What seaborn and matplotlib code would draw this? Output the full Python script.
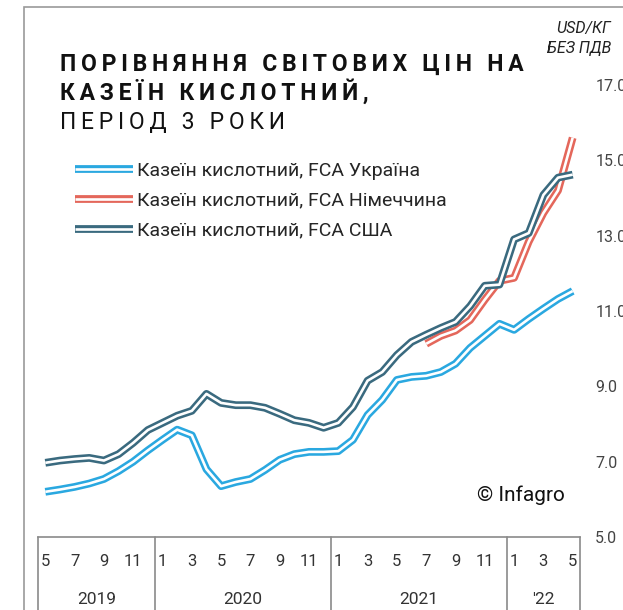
import pandas as pd
import matplotlib.pyplot as plt
import matplotlib.patches as mpatches
from matplotlib.lines import Line2D
import matplotlib.transforms as mtransforms
import seaborn as sns

# months from 2019-05 to 2022-05
years = [2019] * 8 + [2020] * 12 + [2021] * 12 + [2022] * 5
months = list(range(5, 13)) + list(range(1, 13)) * 2 + list(range(1, 6))
year_labels = {2019: "2019", 2020: "2020", 2021: "2021", 2022: "'22"}

ukraine = [6.20, 6.26, 6.33, 6.42, 6.54, 6.75, 7.00, 7.30,
           7.58, 7.85, 7.70, 6.80, 6.35, 6.46, 6.54, 6.78, 7.05, 7.20, 7.26, 7.26,
           7.28, 7.58, 8.24, 8.64, 9.17, 9.25, 9.28, 9.38, 9.60, 10.02, 10.34, 10.66,
           10.50, 10.79, 11.06, 11.32, 11.53]
usa = [6.97, 7.03, 7.07, 7.10, 7.03, 7.20, 7.50, 7.84,
       8.03, 8.22, 8.35, 8.80, 8.56, 8.50, 8.50, 8.43, 8.27, 8.10, 8.03, 7.90,
       8.03, 8.45, 9.15, 9.38, 9.83, 10.18, 10.37, 10.55, 10.71, 11.13, 11.67, 11.70,
       12.90, 13.07, 14.08, 14.54, 14.62]
germany = [None] * 26 + [10.13, 10.34, 10.48, 10.76, 11.30, 11.80,
                         11.88, 12.84, 13.60, 14.20, 15.60]

names = ["Казеїн кислотний, FCA Україна",
         "Казеїн кислотний, FCA Німеччина",
         "Казеїн кислотний, FCA США"]
colors = ["#2aa8e0", "#e4675b", "#3a6a7f"]

df = pd.DataFrame({"idx": range(len(months)), "ua": ukraine, "de": germany, "us": usa})
df = df.astype(float)

sns.set_style("white")
plt.rcParams['font.family'] = ['Roboto', 'DejaVu Sans']

W, H = 623, 610
fig = plt.figure(figsize=(W / 100, H / 100), dpi=100)
ax = fig.add_axes([38 / W, (H - 537) / H, 542 / W, 452 / H])

# outer frame
fig.patches.append(mpatches.Rectangle((24 / W, -0.1), 1.2, 1.1 - 7 / H,
                                      transform=fig.transFigure, fill=False,
                                      edgecolor="#9a9a9a", lw=1.2))

THICK, THIN = 5.6, 1.9
for col, c in zip(["ua", "de", "us"], colors):
    d = df.dropna(subset=[col])
    sns.lineplot(x=d["idx"], y=d[col], color=c, lw=THICK, ax=ax,
                 solid_capstyle="butt", clip_on=False)
    sns.lineplot(x=d["idx"], y=d[col], color="white", lw=THIN, ax=ax,
                 solid_capstyle="butt", clip_on=False)

ax.set_xlim(-0.5, len(months) - 0.5)
ax.set_ylim(5, 17)
ax.set_xlabel("")
ax.set_ylabel("")
for s in ["top", "left", "right"]:
    ax.spines[s].set_visible(False)
ax.spines["bottom"].set_color("#8a8a8a")
ax.spines["bottom"].set_linewidth(1.2)

yt = [5, 7, 9, 11, 13, 15, 17]
ax.set_yticks(yt)
ax.set_yticklabels([f"{v:.1f}" for v in yt])
ax.yaxis.tick_right()
ax.tick_params(axis="y", length=0, pad=11, labelsize=11.5, labelcolor="#444444")
ax.set_xticks([])

trans = mtransforms.blended_transform_factory(ax.transData, ax.transAxes)
# month labels (odd months)
for i, m in enumerate(months):
    if i % 2 == 0:
        ax.text(i, -24 / 452, str(m), transform=trans, ha="center", va="center",
                fontsize=12, color="#333333")
# year boxes
bounds = [-0.5]
for i in range(1, len(years)):
    if years[i] != years[i - 1]:
        bounds.append(i - 0.5)
bounds.append(len(years) - 0.5)
for b in bounds:
    ax.plot([b, b], [0, -0.2], transform=trans, color="#8a8a8a", lw=1.2, clip_on=False)
for y0, (a, b) in zip(year_labels, zip(bounds[:-1], bounds[1:])):
    ax.text((a + b) / 2, -62 / 452, year_labels[y0], transform=trans, ha="center",
            va="center", fontsize=12.5, color="#333333")

# legend
handles = [(Line2D([], [], color=c, lw=THICK, solid_capstyle="butt"),
            Line2D([], [], color="white", lw=THIN, solid_capstyle="butt")) for c in colors]
ax.legend(handles, names, loc="upper left", bbox_to_anchor=(75 / W, 1 - 162 / H),
          bbox_transform=fig.transFigure, frameon=False, fontsize=14,
          handlelength=3.0, handletextpad=0.2, labelspacing=0.6,
          borderpad=0, borderaxespad=0)

# title with letter spacing
def spaced(s):
    return "\u200a\u200a".join(s)

fig.text(60 / W, 1 - 71 / H, spaced("ПОРІВНЯННЯ СВІТОВИХ ЦІН НА"), fontsize=16.5,
         fontweight="bold", va="baseline", color="#111111")
fig.text(60 / W, 1 - 100 / H, spaced("КАЗЕЇН КИСЛОТНИЙ,"), fontsize=16.5,
         fontweight="bold", va="baseline", color="#111111")
fig.text(60 / W, 1 - 129 / H, spaced("ПЕРІОД 3 РОКИ"), fontsize=16.5,
         va="baseline", color="#111111")

fig.text(611 / W, 1 - 28 / H, "USD/КГ", ha="right", va="center", style="italic",
         fontsize=11.5, color="#222222")
fig.text(611 / W, 1 - 48 / H, "БЕЗ ПДВ", ha="right", va="center", style="italic",
         fontsize=11.5, color="#222222")
fig.text(477 / W, 1 - 495 / H, "© Infagro", va="center", fontsize=15, color="#111111")

fig.savefig("out.png", dpi=100)
